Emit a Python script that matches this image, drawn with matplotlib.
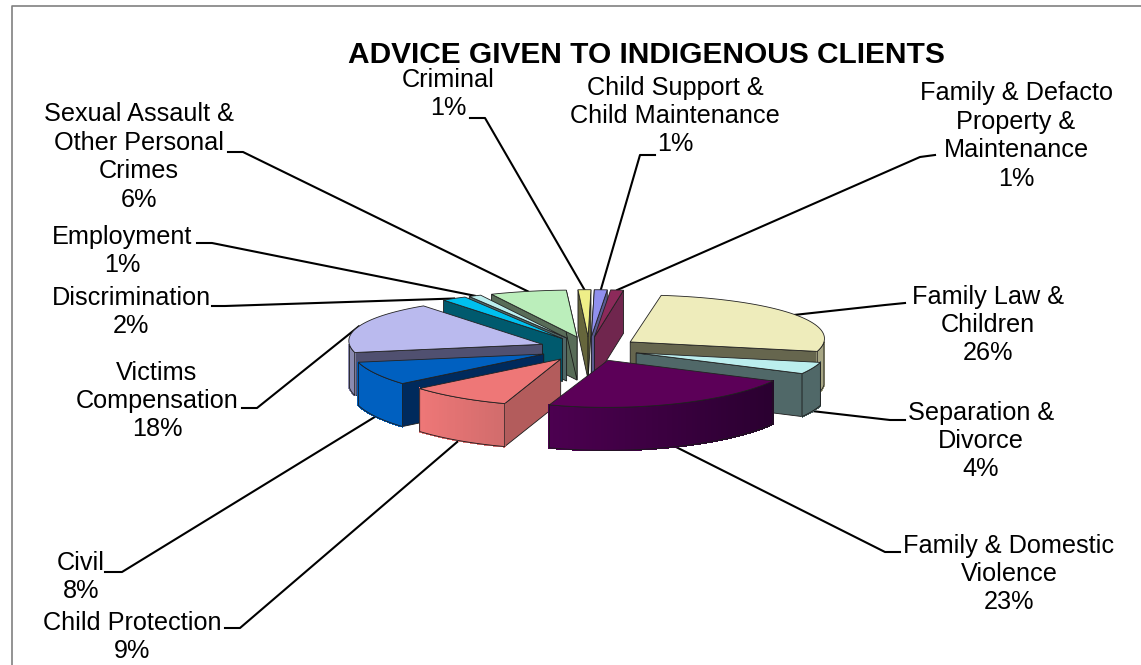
import numpy as np
import matplotlib
matplotlib.use("Agg")
import matplotlib.pyplot as plt
from matplotlib.colors import to_rgb

plt.rcParams['font.family'] = ['Liberation Sans', 'DejaVu Sans']

# clockwise from 12 o'clock
categories = ["Child Support &\nChild Maintenance", "Family & Defacto\nProperty &\nMaintenance",
              "Family Law &\nChildren", "Separation &\nDivorce", "Family & Domestic\nViolence",
              "Child Protection", "Civil", "Victims\nCompensation", "Discrimination",
              "Employment", "Sexual Assault &\nOther Personal\nCrimes", "Criminal"]
values = [1, 1, 26, 4, 23, 9, 8, 18, 2, 1, 6, 1]

top_colors = ["#9090ee", "#8c2a5a", "#eeecbb", "#bbeeee", "#5c0058", "#ee7777",
              "#0060c0", "#babaee", "#00c0ee", "#bbeeee", "#bbeebb", "#eeee88"]
side_colors = ["#5a5a90", "#70264e", "#66664e", "#506868", "#4c0048", "#b35c5c",
               "#002a5c", "#505070", "#005a6e", "#506868", "#586c58", "#66663c"]
# curved wall, left colour then right colour
rim_left = ["#5a5a90", "#70264e", "#a8a785", "#506868", "#4c0050", "#ee7777",
            "#0060c0", "#8a8ab0", "#005a6e", "#506868", "#586c58", "#66663c"]
rim_right = ["#5a5a90", "#70264e", "#a8a785", "#506868", "#2a0030", "#d06c6c",
             "#0060c0", "#8a8ab0", "#005a6e", "#506868", "#586c58", "#66663c"]

# label centre x, label centre y, stub start, elbow
labels_xy = [(675, 116), (1016, 136), (988, 325), (981, 441), (1009, 574), (132, 637),
             (81, 577), (157, 401), (131, 312), (122, 251), (139, 157), (448, 94)]
stubs = [((655, 155), (640, 155)), ((935, 155), (920, 157)), ((905, 303), (885, 305)),
         ((905, 420), (890, 420)), ((900, 552), (885, 552)), ((225, 628), (240, 628)),
         ((105, 572), (122, 572)), ((242, 408), (257, 408)), ((212, 306), (225, 306)),
         ((197, 243), (212, 243)), ((228, 152), (243, 152)), ((470, 118), (485, 118))]

START = np.radians(0.8)
CX, CY = 589, 349
R, K = 192, 0.245
EXPLODE = 50 / R
DEPTH = 43
PERSP = -0.06


def project(u, v, z=0.0):
    p = 1 + PERSP * v
    return CX + u * R * p, CY + v * R * K + z * DEPTH


def direction(theta):
    return np.sin(theta), -np.cos(theta)


fig = plt.figure(figsize=(11.41, 6.65), dpi=100)
ax = fig.add_axes([0, 0, 1, 1])
ax.set_xlim(0, 1141)
ax.set_ylim(665, 0)
ax.axis('off')

# chart frame
ax.plot([12, 12, 1141], [665, 6, 6], color="#808080", lw=1.2, zorder=1)

edges = START + np.cumsum([0] + values) / sum(values) * 2 * np.pi
mids = (edges[:-1] + edges[1:]) / 2
order = np.argsort(-np.cos(mids))

for i in order:
    t1, t2, tm = edges[i], edges[i + 1], mids[i]
    ex, ey = direction(tm)
    ox, oy = ex * EXPLODE, ey * EXPLODE
    ts = np.linspace(t1, t2, max(int((t2 - t1) * 60), 4))
    us = ox + np.sin(ts)
    vs = oy - np.cos(ts)
    z_base = 10 + list(order).index(i)

    # radial walls
    for t, visible in ((t1, np.sin(t1) < 0.05), (t2, np.sin(t2) > -0.05)):
        if not visible:
            continue
        du, dv = direction(t)
        pts = [project(ox, oy), project(ox + du, oy + dv),
               project(ox + du, oy + dv, 1), project(ox, oy, 1)]
        ax.fill(*zip(*pts), fc=side_colors[i], ec="#1a1a1a", lw=0.6, zorder=z_base)

    # curved wall, strips shaded left to right
    front = np.where(vs - oy > 0)[0]
    if len(front) > 1:
        xs_all = [project(us[j], vs[j])[0] for j in front]
        xmin, xmax = min(xs_all), max(xs_all)
        c0, c1 = np.array(to_rgb(rim_left[i])), np.array(to_rgb(rim_right[i]))
        for a, b in zip(front[:-1], front[1:]):
            f = ((xs_all[a - front[0]] + xs_all[b - front[0]]) / 2 - xmin) / max(xmax - xmin, 1)
            col = c0 + (c1 - c0) * f
            pts = [project(us[a], vs[a]), project(us[b], vs[b]),
                   project(us[b], vs[b], 1), project(us[a], vs[a], 1)]
            ax.fill(*zip(*pts), fc=col, ec=col, lw=0.8, antialiased=False, zorder=z_base)
        outline = [project(us[j], vs[j]) for j in front] + \
                  [project(us[j], vs[j], 1) for j in front[::-1]]
        ax.fill(*zip(*outline), fc='none', ec="#1a1a1a", lw=0.6, zorder=z_base)

    # top face
    pts = [project(ox, oy)] + [project(a, b) for a, b in zip(us, vs)]
    ax.fill(*zip(*pts), fc=top_colors[i], ec="#222222", lw=0.6, zorder=z_base)

    # leader line to the middle of the rim
    z_end = 1 if np.cos(tm) < 0 else 0
    end = project(ox + ex, oy + ey, z_end)
    (x0, y0), (x1, y1) = stubs[i]
    ax.plot([x0, x1, end[0]], [y0, y1, end[1]], color="black", lw=1.5, zorder=5)

    # label
    lx, ly = labels_xy[i]
    ax.text(lx, ly, f"{categories[i]}\n{values[i]}%", ha='center', va='center',
            fontsize=18.2, linespacing=1.23, color="black", zorder=40)

ax.text(646, 55, "ADVICE GIVEN TO INDIGENOUS CLIENTS", ha='center', va='center',
        fontsize=21.5, fontweight='bold', color="black", zorder=40)

fig.savefig("out.png", dpi=100)
